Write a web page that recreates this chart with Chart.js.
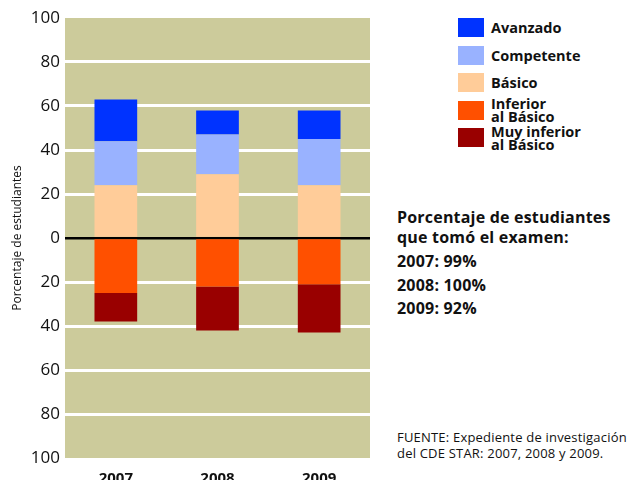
<!DOCTYPE html>
<html>
<head>
<meta charset="utf-8">
<script src="https://cdn.jsdelivr.net/npm/chart.js@4"></script>
<style>
  body { margin: 0; background: #fff; font-family: "Open Sans", sans-serif; color: #111; }
  #wrap { position: relative; width: 634px; height: 480px; overflow: hidden; }
  #chartBox { position: absolute; left: 0; top: 0; width: 380px; height: 490px; }
  .leg { position: absolute; left: 458px; height: 19px; display: flex; align-items: center; }
  .leg .sw { width: 26px; height: 19px; flex: none; }
  .leg .tx { margin-left: 7px; font-weight: 700; font-size: 14.5px; line-height: 13px; white-space: pre-line; }
  .line { position: absolute; left: 397px; white-space: nowrap; }
  .bold { font-weight: 700; font-size: 16px; line-height: 20px; letter-spacing: 0.2px; }
  .foot { font-size: 13px; line-height: 16px; letter-spacing: 0.2px; }
</style>
</head>
<body>
<div id="wrap">
  <div id="chartBox"><canvas id="myChart"></canvas></div>
  <div id="legend"></div>
  <div id="notes"></div>
</div>
<script>
// datos del gráfico
const years = ['2007', '2008', '2009'];
const basico = [24, 29, 24];
const competente = [20, 18, 21];
const avanzado = [19, 11, 13];
const inferior = [25, 22, 21];
const muyInferior = [13, 20, 22];
const participacion = [99, 100, 92];

// orden de apilado: de cero hacia afuera
const datasets = [
    { label: 'Básico', data: basico, backgroundColor: '#FFCC99' },
    { label: 'Competente', data: competente, backgroundColor: '#99B2FF' },
    { label: 'Avanzado', data: avanzado, backgroundColor: '#0033FF' },
    { label: 'Inferior\nal Básico', data: inferior.map(v => -v), backgroundColor: '#FF5000' },
    { label: 'Muy inferior\nal Básico', data: muyInferior.map(v => -v), backgroundColor: '#990000' }
];
datasets.forEach(ds => {
    ds.barPercentage = 0.42;
    ds.categoryPercentage = 1;
    ds.borderWidth = 0;
});

// fondo del área del gráfico
const plotBg = {
    id: 'plotBg',
    beforeDraw(chart) {
        const { ctx, chartArea: a } = chart;
        ctx.save();
        ctx.fillStyle = '#CCCB9B';
        ctx.fillRect(a.left, a.top, a.right - a.left, a.bottom - a.top);
        ctx.restore();
    }
};

const ctx = document.getElementById('myChart').getContext('2d');
const myChart = new Chart(ctx, {
    type: 'bar',
    data: { labels: years, datasets: datasets },
    plugins: [plotBg],
    options: {
        responsive: true,
        maintainAspectRatio: false,
        animation: false,
        layout: { padding: { top: 18, right: 10, left: 0, bottom: 0 } },
        plugins: {
            legend: { display: false },
            tooltip: { enabled: false }
        },
        scales: {
            x: {
                stacked: true,
                grid: { display: false, drawTicks: false },
                border: { display: false },
                ticks: {
                    color: '#111',
                    padding: 12,
                    font: { family: 'Open Sans', size: 15, weight: 'bold' }
                },
                afterFit: s => { s.height = 32; }
            },
            y: {
                stacked: true,
                min: -100,
                max: 100,
                border: { display: false },
                grid: {
                    drawTicks: false,
                    color: c => c.tick.value === 0 ? '#000' : (Math.abs(c.tick.value) === 100 ? 'rgba(0,0,0,0)' : '#fff'),
                    lineWidth: c => c.tick.value === 0 ? 2.5 : 3
                },
                ticks: {
                    stepSize: 20,
                    padding: 5,
                    color: '#111',
                    font: { family: 'Open Sans', size: 17 },
                    callback: v => Math.abs(v)
                },
                title: {
                    display: true,
                    text: 'Porcentaje de estudiantes',
                    color: '#111',
                    padding: { top: 10, bottom: 0 },
                    font: { family: 'Open Sans', size: 12 }
                },
                afterFit: s => { s.width = 65; }
            }
        }
    }
});

// leyenda (orden de arriba hacia abajo)
const legendOrder = [2, 1, 0, 3, 4];
const legendEl = document.getElementById('legend');
legendOrder.forEach((idx, i) => {
    const ds = datasets[idx];
    const row = document.createElement('div');
    row.className = 'leg';
    row.style.top = (18 + i * 27.5) + 'px';
    row.innerHTML = '<div class="sw" style="background:' + ds.backgroundColor + '"></div><div class="tx"></div>';
    row.querySelector('.tx').textContent = ds.label;
    legendEl.appendChild(row);
});

// notas a la derecha
const notes = [
    { text: 'Porcentaje de estudiantes', cls: 'bold', y: 207 },
    { text: 'que tomó el examen:', cls: 'bold', y: 227 }
];
years.forEach((yr, i) => {
    notes.push({ text: yr + ': ' + participacion[i] + '%', cls: 'bold', y: 251 + i * 23.5 });
});
notes.push({ text: 'FUENTE: Expediente de investigación', cls: 'foot', y: 429 });
notes.push({ text: 'del CDE STAR: 2007, 2008 y 2009.', cls: 'foot', y: 445 });
const notesEl = document.getElementById('notes');
notes.forEach(n => {
    const d = document.createElement('div');
    d.className = 'line ' + n.cls;
    d.style.top = n.y + 'px';
    d.textContent = n.text;
    notesEl.appendChild(d);
});
</script>
</body>
</html>
